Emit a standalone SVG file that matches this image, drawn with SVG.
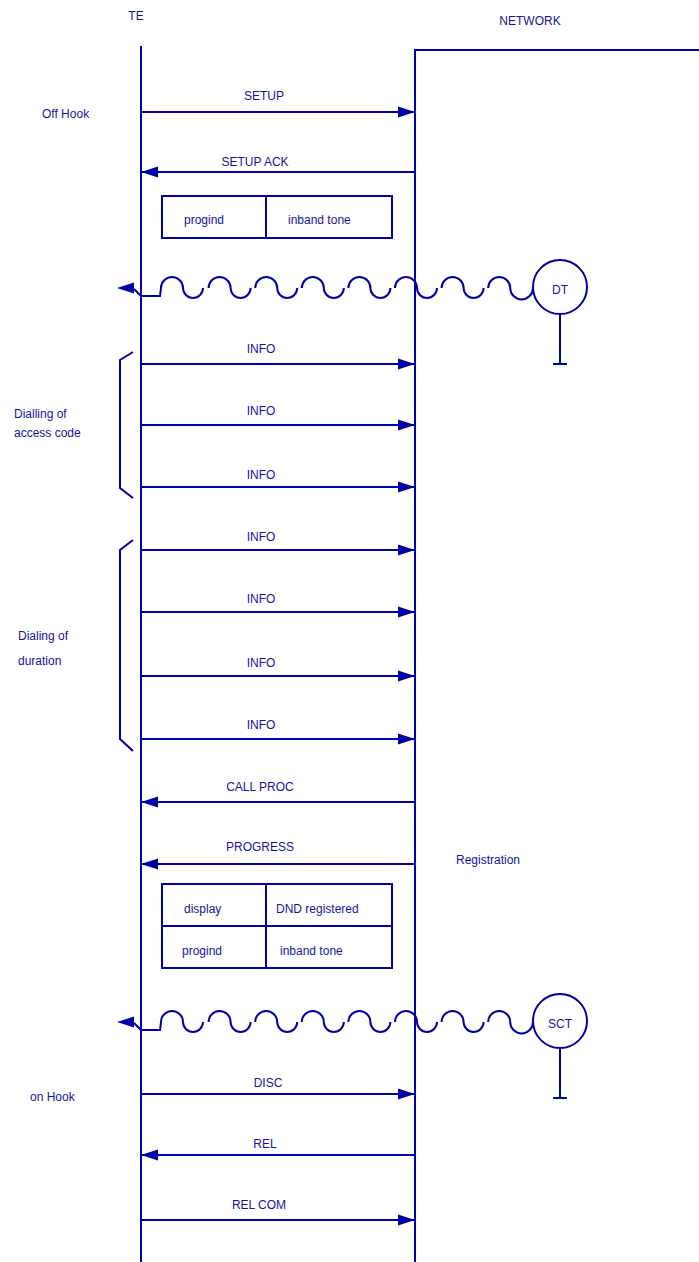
<svg xmlns="http://www.w3.org/2000/svg" width="699" height="1262" viewBox="0 0 699 1262">
<style>
.ln{stroke:#0000A8;stroke-width:2;fill:none}
.t{font-family:"Liberation Sans",Arial,sans-serif;font-size:12px;fill:#1414A0}
.m{text-anchor:middle}
.msg{stroke:#0000A8;stroke-width:2;fill:none;marker-end:url(#ah)}
</style>
<defs>
<marker id="ah" markerUnits="userSpaceOnUse" markerWidth="18" markerHeight="12" refX="17" refY="6" orient="auto">
<path d="M0,0.5 L17,6 L0,11.5 Z" fill="#0000A8"/>
</marker>
<g id="wave">
<path class="ln" d="M134,289 L141,296 L160,296 L161,288 A11,11 0 0 1 183,288 A10,10 0 0 0 203,288 M208.6,288 A11,11 0 0 1 230.6,288 A10,10 0 0 0 250.6,288 M255.2,288 A11,11 0 0 1 277.2,288 A10,10 0 0 0 297.2,288 M301.8,288 A11,11 0 0 1 323.8,288 A10,10 0 0 0 343.8,288 M348.4,288 A11,11 0 0 1 370.4,288 A10,10 0 0 0 390.4,288 M395,288 A11,11 0 0 1 417,288 A10,10 0 0 0 437,288 M441.6,288 A11,11 0 0 1 463.6,288 A10,10 0 0 0 483.6,288 M488.2,288 A11,11 0 0 1 510.2,288 A11.4,11.4 0 0 0 533,288"/>
<path d="M117,288 L134,282.5 L134,293.5 Z" fill="#0000A8"/>
<circle class="ln" cx="560" cy="287" r="27"/>
<path class="ln" d="M560,314 L560,364 M553,364 L567,364"/>
</g>
</defs>

<g id="te">
<text class="t m" x="136" y="20">TE</text>
<line class="ln" x1="141" y1="46" x2="141" y2="1262"/>
</g>
<g id="network">
<text class="t m" x="530" y="25">NETWORK</text>
<path class="ln" d="M415,1262 L415,50 L699,50"/>
</g>

<g id="labels">
<text class="t" x="42" y="118">Off Hook</text>
<text class="t" x="14" y="418">Dialling of</text>
<text class="t" x="14" y="437">access code</text>
<text class="t" x="18" y="640">Dialing of</text>
<text class="t" x="18" y="665">duration</text>
<text class="t" x="456" y="864">Registration</text>
<text class="t" x="30" y="1101">on Hook</text>
</g>

<g id="brackets">
<path class="ln" d="M133,352 L120,360 L120,488 L133,498"/>
<path class="ln" d="M133,540 L120,550 L120,739 L133,751"/>
</g>

<g id="box1">
<rect class="ln" x="162" y="196" width="230" height="42"/>
<line class="ln" x1="266" y1="196" x2="266" y2="238"/>
<text class="t" x="184" y="224">progind</text>
<text class="t" x="288" y="224">inband tone</text>
</g>

<g id="box2">
<rect class="ln" x="162" y="884" width="230" height="84"/>
<line class="ln" x1="266" y1="884" x2="266" y2="968"/>
<line class="ln" x1="162" y1="926" x2="392" y2="926"/>
<text class="t" x="184" y="913">display</text>
<text class="t" x="276" y="913">DND registered</text>
<text class="t" x="182" y="955">progind</text>
<text class="t" x="280" y="955">inband tone</text>
</g>

<g id="tone-dt">
<use href="#wave"/>
<text class="t m" x="560" y="294">DT</text>
</g>
<g id="tone-sct">
<use href="#wave" transform="translate(0,734)"/>
<text class="t m" x="560" y="1028">SCT</text>
</g>

<g id="connectors">
<line class="msg" x1="141" y1="112" x2="415" y2="112"/>
<line class="msg" x1="415" y1="172" x2="141" y2="172"/>
<line class="msg" x1="141" y1="364" x2="415" y2="364"/>
<line class="msg" x1="141" y1="425" x2="415" y2="425"/>
<line class="msg" x1="141" y1="487" x2="415" y2="487"/>
<line class="msg" x1="141" y1="550" x2="415" y2="550"/>
<line class="msg" x1="141" y1="612" x2="415" y2="612"/>
<line class="msg" x1="141" y1="676" x2="415" y2="676"/>
<line class="msg" x1="141" y1="739" x2="415" y2="739"/>
<line class="msg" x1="415" y1="802" x2="141" y2="802"/>
<line class="msg" x1="415" y1="864" x2="141" y2="864"/>
<line class="msg" x1="141" y1="1094" x2="415" y2="1094"/>
<line class="msg" x1="415" y1="1155" x2="141" y2="1155"/>
<line class="msg" x1="141" y1="1220" x2="415" y2="1220"/>
</g>
<g id="connector-labels">
<text class="t m" x="264" y="100">SETUP</text>
<text class="t m" x="255" y="166">SETUP ACK</text>
<text class="t m" x="261" y="353">INFO</text>
<text class="t m" x="261" y="415">INFO</text>
<text class="t m" x="261" y="479">INFO</text>
<text class="t m" x="261" y="541">INFO</text>
<text class="t m" x="261" y="603">INFO</text>
<text class="t m" x="261" y="667">INFO</text>
<text class="t m" x="261" y="729">INFO</text>
<text class="t m" x="260" y="791">CALL PROC</text>
<text class="t m" x="260" y="851">PROGRESS</text>
<text class="t m" x="268" y="1087">DISC</text>
<text class="t m" x="265" y="1148">REL</text>
<text class="t m" x="259" y="1209">REL COM</text>
</g>
</svg>
